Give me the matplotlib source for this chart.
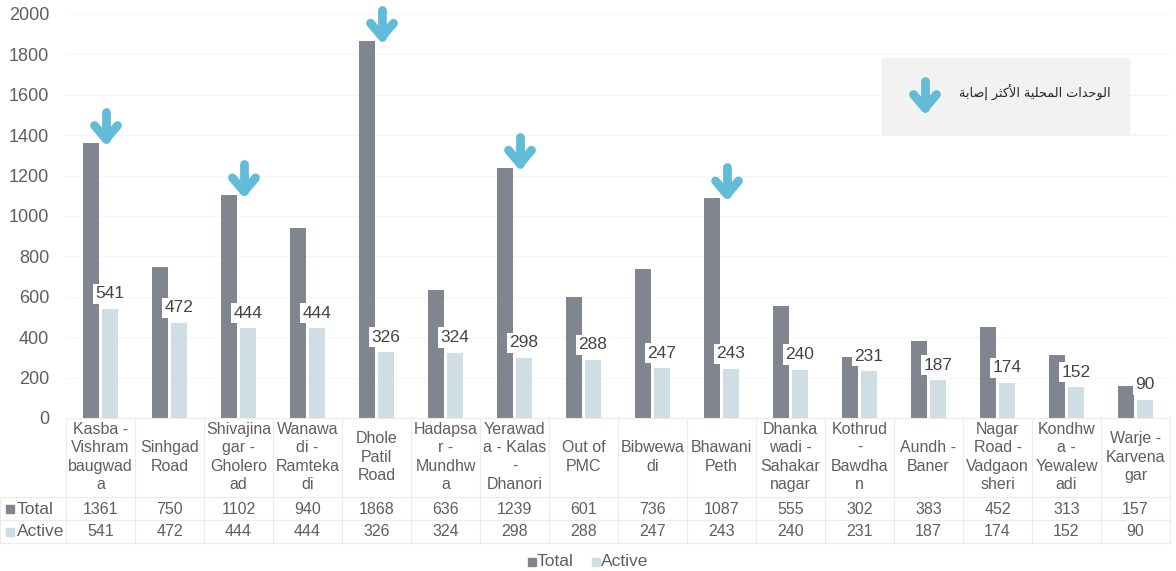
import numpy as np
import matplotlib.pyplot as plt
from matplotlib.transforms import IdentityTransform
from matplotlib.patches import Rectangle

# ---------------------------- datos ----------------------------
categorias = ["Kasba -\nVishram\nbaugwad\na", "Sinhgad\nRoad", "Shivajina\ngar -\nGholero\nad",
              "Wanawa\ndi -\nRamteka\ndi", "Dhole\nPatil\nRoad", "Hadapsa\nr -\nMundhw\na",
              "Yerawad\na - Kalas\n-\nDhanori", "Out of\nPMC", "Bibwewa\ndi", "Bhawani\nPeth",
              "Dhanka\nwadi -\nSahakar\nnagar", "Kothrud\n-\nBawdha\nn", "Aundh -\nBaner",
              "Nagar\nRoad -\nVadgaon\nsheri", "Kondhw\na -\nYewalew\nadi", "Warje -\nKarvena\ngar"]
total = [1361, 750, 1102, 940, 1868, 636, 1239, 601, 736, 1087, 555, 302, 383, 452, 313, 157]
active = [541, 472, 444, 444, 326, 324, 298, 288, 247, 243, 240, 231, 187, 174, 152, 90]
destacados = [0, 2, 4, 6, 9]  # zonas marcadas con flecha
series = ["Total", "Active"]
leyenda_flecha = "الوحدات المحلية الأكثر إصابة"

colorTotal = "#80858f"
colorActive = "#cfdde4"
colorFlecha = "#62bbd7"
colorTexto = "#5f5f5f"
colorLinea = "#ececec"

# ---------------------- texto árabe (formas) ----------------------
FORMAS = {
    'ا': ('\uFE8D', '\uFE8E', None, None), 'أ': ('\uFE83', '\uFE84', None, None),
    'إ': ('\uFE87', '\uFE88', None, None), 'ب': ('\uFE8F', '\uFE90', '\uFE91', '\uFE92'),
    'ة': ('\uFE93', '\uFE94', None, None), 'ت': ('\uFE95', '\uFE96', '\uFE97', '\uFE98'),
    'ث': ('\uFE99', '\uFE9A', '\uFE9B', '\uFE9C'), 'ح': ('\uFEA1', '\uFEA2', '\uFEA3', '\uFEA4'),
    'د': ('\uFEA9', '\uFEAA', None, None), 'ر': ('\uFEAD', '\uFEAE', None, None),
    'ص': ('\uFEB9', '\uFEBA', '\uFEBB', '\uFEBC'), 'ك': ('\uFED9', '\uFEDA', '\uFEDB', '\uFEDC'),
    'ل': ('\uFEDD', '\uFEDE', '\uFEDF', '\uFEE0'), 'م': ('\uFEE1', '\uFEE2', '\uFEE3', '\uFEE4'),
    'و': ('\uFEED', '\uFEEE', None, None), 'ي': ('\uFEF1', '\uFEF2', '\uFEF3', '\uFEF4'),
}
LAM_ALEF = {'ا': ('\uFEFB', '\uFEFC'), 'أ': ('\uFEF7', '\uFEF8'), 'إ': ('\uFEF9', '\uFEFA')}


def formarArabe(texto):
    tokens = []
    i = 0
    while i < len(texto):
        c = texto[i]
        if c == 'ل' and i + 1 < len(texto) and texto[i + 1] in LAM_ALEF:
            tokens.append(('LA', texto[i + 1]))
            i += 2
        else:
            tokens.append(('C', c))
            i += 1
    salida = []
    for k, (tipo, c) in enumerate(tokens):
        prev = tokens[k - 1] if k > 0 else None
        nxt = tokens[k + 1] if k + 1 < len(tokens) else None
        unePrev = prev is not None and prev[0] == 'C' and prev[1] in FORMAS and FORMAS[prev[1]][2] is not None
        if tipo == 'LA':
            salida.append(LAM_ALEF[c][1 if unePrev else 0])
            continue
        f = FORMAS.get(c)
        if f is None:
            salida.append(c)
            continue
        uneSig = nxt is not None and f[2] is not None and (nxt[0] == 'LA' or nxt[1] in FORMAS)
        if unePrev and uneSig:
            salida.append(f[3])
        elif unePrev:
            salida.append(f[1])
        elif uneSig:
            salida.append(f[2])
        else:
            salida.append(f[0])
    return ''.join(salida)[::-1]


# Flecha gruesa dibujada en píxeles a partir de la punta
def flecha(fig, xp, yp, escala=1.0):
    w = 6.3 * escala
    yTip = yp + 4
    pts_shaft = ([xp, xp], [yTip, yTip + 27 * escala])
    pts_head = ([xp - 11.5 * escala, xp, xp + 11.5 * escala], [yTip + 13.5 * escala, yTip, yTip + 13.5 * escala])
    for xs, ys in (pts_shaft, pts_head):
        fig.add_artist(plt.Line2D(xs, ys, transform=IdentityTransform(), color=colorFlecha,
                                  linewidth=w, solid_capstyle='round', solid_joinstyle='round'))


# ------------------------------ gráfico ------------------------------
W, H = 1176, 571
plt.rcParams['font.family'] = ['Liberation Sans', 'DejaVu Sans']
fig = plt.figure(figsize=(W / 100, H / 100), dpi=100)
ax = fig.add_axes([66 / W, 153 / H, 1104 / W, 404 / H])

x = np.arange(len(categorias))
ancho = 0.24
ax.bar(x - 0.135, total, ancho, color=colorTotal, zorder=2)
ax.bar(x + 0.135, active, ancho, color=colorActive, zorder=2)

ax.set_xlim(-0.5, len(categorias) - 0.5)
ax.set_ylim(0, 2000)
ax.set_yticks(np.arange(0, 2001, 200))
ax.tick_params(axis='y', length=0, pad=12, labelsize=13, labelcolor=colorTexto)
ax.set_xticks([])
ax.grid(axis='y', color='#f5f5f5', linewidth=0.8, zorder=0)
for s in ax.spines.values():
    s.set_visible(False)

for i, v in enumerate(active):
    ax.annotate(str(v), (x[i] + 0.135, v), xytext=(0, 15), textcoords='offset pixels',
                ha='center', va='center', fontsize=12.5, color='#444444', zorder=4,
                bbox=dict(boxstyle='square,pad=0.15', facecolor='white', edgecolor='none'))

fig.canvas.draw()
for i in destacados:
    xp, yp = ax.transData.transform((x[i] + 0.08, total[i]))
    flecha(fig, xp, yp)

# --------------------------- tabla inferior ---------------------------
tx = ax.get_xaxis_transform()
pxY = lambda py: -(py - 418) / 404.0  # píxel (desde arriba) -> coordenada de ejes
pxX = lambda px: (px - 66) / 69.0 - 0.5

for i, c in enumerate(categorias):
    ax.text(x[i], pxY(457), c, transform=tx, ha='center', va='center', fontsize=11.5,
            color=colorTexto, linespacing=1.3, clip_on=False)
    ax.text(x[i], pxY(509), str(total[i]), transform=tx, ha='center', va='center',
            fontsize=11.5, color=colorTexto, clip_on=False)
    ax.text(x[i], pxY(532), str(active[i]), transform=tx, ha='center', va='center',
            fontsize=11.5, color=colorTexto, clip_on=False)

for nombre, color, py in zip(series, [colorTotal, colorActive], [509, 532]):
    ax.add_patch(Rectangle((pxX(6), pxY(py + 4)), 8 / 69.0, 8 / 404.0, transform=tx,
                           color=color, clip_on=False))
    ax.text(pxX(17), pxY(py), nombre, transform=tx, ha='left', va='center', fontsize=12.5,
            color=colorTexto, clip_on=False)

for py, x0 in [(418, 66), (497, 0), (520, 0), (543, 0)]:
    ax.plot([pxX(x0), pxX(1170)], [pxY(py)] * 2, transform=tx, color=colorLinea,
            linewidth=0.8, clip_on=False)
for k in range(len(categorias) + 1):
    ax.plot([pxX(66 + 69 * k)] * 2, [pxY(418), pxY(543)], transform=tx, color=colorLinea,
            linewidth=0.8, clip_on=False)
ax.plot([pxX(0)] * 2, [pxY(497), pxY(543)], transform=tx, color=colorLinea,
        linewidth=0.8, clip_on=False)

# leyenda inferior
for nombre, color, px in zip(series, [colorTotal, colorActive], [528, 592]):
    fig.add_artist(Rectangle((px / W, (H - 566) / H), 8 / W, 8 / H, color=color))
    fig.text((px + 9) / W, (H - 562) / H, nombre, ha='left', va='center', fontsize=12.5,
             color=colorTexto)

# recuadro de la flecha
fig.add_artist(Rectangle((882 / W, (H - 134) / H), 247 / W, 76 / H, color='#f2f2f2', zorder=1))
flecha(fig, 925, H - 112)
fig.text(1111 / W, (H - 93) / H, formarArabe(leyenda_flecha), ha='right', va='center',
         fontsize=9.2, color='#262626', family=['DejaVu Sans'])

plt.savefig('out.png', dpi=100)
